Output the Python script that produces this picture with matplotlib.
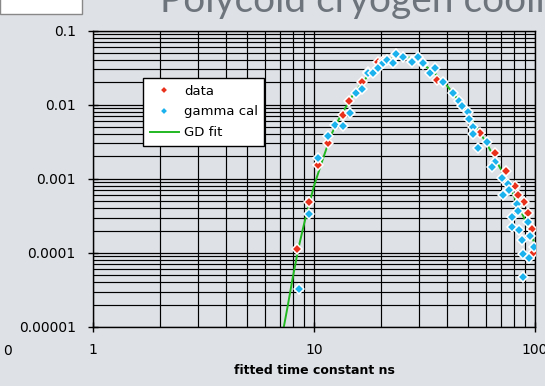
import matplotlib
matplotlib.use("Agg")
import matplotlib.pyplot as plt
from matplotlib.ticker import LogLocator, NullFormatter
from matplotlib.patches import Rectangle

# ---- data ----
data_x = [8.42, 9.52, 10.46, 11.53, 13.48, 14.47, 16.48, 17.61, 19.4, 20.46, 23.6, 27.7, 31.2,
          35.9, 56.4, 65.9, 73.7, 81.2, 83.5, 89.5, 92.7, 96.6, 98.3]
data_y = [1.125e-4, 4.89e-4, 1.53e-3, 3.08e-3, 7.17e-3, 0.0112, 0.0205, 0.0275, 0.0379, 0.0385, 0.0465, 0.0385, 0.0355,
          0.0215, 4.18e-3, 2.24e-3, 1.27e-3, 7.97e-4, 6.02e-4, 4.81e-4, 3.48e-4, 2.1e-4, 1.0e-4]

gamma_x = [8.53, 9.52, 10.46, 11.53, 12.49, 13.57, 14.55, 15.49, 16.54, 17.61, 18.54, 19.54,
           20.46, 21.47, 22.7, 23.6, 25.35, 27.7, 29.6, 31.2, 33.5, 35.3, 38.5, 42.7,
           45.4, 46.6, 49.9, 50.4, 52.6, 52.6, 60.4, 55.4, 65.9, 63.7, 70.7, 75.7,
           71.9, 76.5, 82.6, 84.0, 78.5, 78.5, 84.9, 93.3, 94.9, 87.1, 98.9, 88.6,
           94.3, 88.6]
gamma_y = [3.25e-5, 3.37e-4, 1.88e-3, 3.80e-3, 5.3e-3, 5.19e-3, 7.63e-3, 0.0145, 0.0161, 0.0269, 0.0271, 0.0309,
           0.0368, 0.040, 0.036, 0.0482, 0.0443, 0.0373, 0.0435, 0.036, 0.0269, 0.0309, 0.0204, 0.0145,
           0.0113, 9.57e-3, 8.0e-3, 6.34e-3, 5.04e-3, 4.01e-3, 3.15e-3, 2.57e-3, 1.69e-3, 1.45e-3, 1.01e-3, 8.47e-4,
           6.02e-4, 7.05e-4, 4.56e-4, 3.66e-4, 3.07e-4, 2.25e-4, 2.03e-4, 2.63e-4, 1.69e-4, 1.49e-4, 1.19e-4, 9.55e-5,
           8.6e-5, 4.75e-5]

fit_x = [7.2, 7.6, 8.0, 8.5, 9.0, 9.5, 10, 11, 12, 13, 14, 15, 16, 18, 20, 22, 24, 26, 28, 30,
         35, 40, 45, 50, 55, 60, 70, 80, 90, 100]
fit_y = [8e-6, 1.9e-5, 4.5e-5, 1.15e-4, 2.4e-4, 4.5e-4, 8e-4, 1.9e-3, 4.0e-3, 6.5e-3, 9.5e-3, 0.0135, 0.0175,
         0.027, 0.035, 0.041, 0.044, 0.044, 0.042, 0.038, 0.027, 0.018, 0.0115, 7.3e-3, 4.7e-3, 3.1e-3,
         1.35e-3, 6e-4, 2.8e-4, 1.3e-4]

y_ticks = [1e-5, 1e-4, 1e-3, 1e-2, 1e-1]
y_labels = ["0.00001", "0.0001", "0.001", "0.01", "0.1"]
x_ticks = [1, 10, 100]
x_labels = ["1", "10", "100"]

BG = "#dee1e6"
W, H = 545, 386
fig = plt.figure(figsize=(W / 100, H / 100), dpi=100, facecolor=BG)
ax = fig.add_axes([93 / W, 1 - 327 / H, (535 - 93) / W, (327 - 30.5) / H])
ax.set_facecolor(BG)
ax.set_xscale("log")
ax.set_yscale("log")
ax.set_xlim(1, 100)
ax.set_ylim(1e-5, 0.1)

ax.grid(True, which="major", color="black", lw=0.9)
ax.grid(True, which="minor", color="black", lw=0.85)
ax.set_axisbelow(True)

ax.plot(fit_x, fit_y, color="#22b822", lw=1.4, label="GD fit", zorder=2, clip_on=True)
ax.plot(data_x, data_y, ls="none", marker="D", ms=4.8, mfc="#e8321e", mec="white", mew=1.1,
        label="data", zorder=3)
ax.plot(gamma_x, gamma_y, ls="none", marker="D", ms=4.8, mfc="#1cb2ee", mec="white", mew=1.1,
        label="gamma cal", zorder=4)

ax.set_yticks(y_ticks)
ax.set_yticklabels(y_labels)
ax.set_xticks(x_ticks)
ax.set_xticklabels(x_labels)
ax.yaxis.set_minor_locator(LogLocator(base=10, subs=range(2, 10)))
ax.xaxis.set_minor_locator(LogLocator(base=10, subs=range(2, 10)))
ax.xaxis.set_minor_formatter(NullFormatter())
ax.yaxis.set_minor_formatter(NullFormatter())
ax.tick_params(which="major", direction="inout", length=7, width=1, labelsize=10, colors="black")
ax.tick_params(axis="y", which="major", pad=9)
ax.tick_params(axis="x", which="major", pad=8)
ax.tick_params(which="minor", length=0)
for s in ax.spines.values():
    s.set_color("black")
    s.set_linewidth(1)

ax.set_xlabel("fitted time constant ns", fontsize=9, fontweight="bold", labelpad=5)

h, l = ax.get_legend_handles_labels()
order = [1, 2, 0]
leg = ax.legend([h[i] for i in order], [l[i] for i in order], loc="upper left",
                bbox_to_anchor=(0.113, 0.84), borderaxespad=0, fontsize=9.5, frameon=True,
                fancybox=False, edgecolor="black", facecolor="white", framealpha=1,
                handlelength=2.2, borderpad=0.5, labelspacing=0.6, handletextpad=0.4)
leg.get_frame().set_linewidth(1)
for lh in leg.legend_handles[:2]:
    lh.set_markersize(4.5)

# partial slide elements around the chart
fig.text(160 / W, 1 - 12 / H, "Polycold cryogen cooling", fontsize=28, color="#6e747c",
         ha="left", va="baseline", family="Lato")
fig.patches.append(Rectangle((0, 1 - 14 / H), 82 / W, 20 / H, transform=fig.transFigure,
                             facecolor="white", edgecolor="#888888", lw=1))
fig.text(3 / W, 1 - 351 / H, "0", fontsize=10, color="black", ha="left", va="center")

fig.savefig("out.png", dpi=100, facecolor=BG)
